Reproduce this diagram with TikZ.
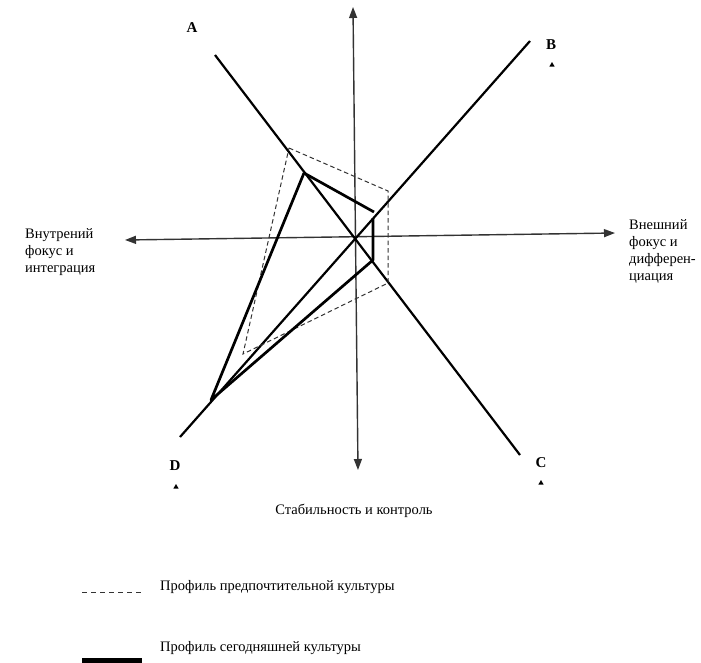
\documentclass[tikz,border=0pt]{standalone}
\usepackage{fontspec}
\setmainfont{Liberation Serif}
\usetikzlibrary{arrows.meta,shapes.geometric}
\begin{document}
\begin{tikzpicture}[x=1pt,y=-1pt,
  axisline/.style={line width=1.4pt,draw=black!80,{Triangle[length=11pt,width=8pt]}-{Triangle[length=11pt,width=8pt]}},
  diag/.style={line width=2.2pt,black},
  nowp/.style={line width=2.7pt,black,line join=round},
  pref/.style={line width=1pt,black!80,dash pattern=on 4.5pt off 3pt},
  txt/.style={font=\fontsize{14.5}{17}\selectfont,inner sep=0pt},
  lbl/.style={txt,align=left,anchor=west},
  corner/.style={font=\fontsize{15}{16}\selectfont\bfseries,inner sep=0pt},
  tri/.style={regular polygon,regular polygon sides=3,fill=black,inner sep=0pt,minimum size=6pt}]
\useasboundingbox (0,0) rectangle (701,662);
% axes
\coordinate (O) at (355,237);
\coordinate (top) at (353,7);
\coordinate (bot) at (358,470);
\coordinate (lft) at (125,240);
\coordinate (rgt) at (615,233);
\draw[axisline] (bot) -- (top);
\draw[axisline] (lft) -- (rgt);
% diagonals
\coordinate (a0) at (215,55);
\coordinate (c0) at (520,455);
\coordinate (b0) at (530,41);
\coordinate (d0) at (180,437);
\draw[diag] (a0) -- (c0);
\draw[diag] (b0) -- (d0);
% corner labels
\node[corner] (A) at (192,28) {A};
\node[corner] (B) at (551,45) {B};
\node[tri] (Bt) at (552,65) {};
\node[corner] (C) at (541,463) {C};
\node[tri] (Ct) at (541,483) {};
\node[corner] (D) at (175,466) {D};
\node[tri] (Dt) at (176,487) {};
% preferred profile (dashed)
\coordinate (pa) at (289,148);
\coordinate (pb) at (388,191);
\coordinate (pc) at (388,283);
\coordinate (pd) at (243,354);
\draw[pref] (pa) -- (pb) -- (pc) -- (pd) -- cycle;
% current profile (solid)
\coordinate (na) at (304,173);
\coordinate (nb) at (374,212);
\coordinate (nb2) at (373,218);
\coordinate (nc) at (373,260);
\coordinate (nd) at (211,400);
\draw[nowp] (na) -- (nb);
\draw[nowp] (nb2) -- (nc) -- (nd) -- (na);
% axis labels
\node[lbl] (left) at (25,252) {Внутрений\\фокус и\\интеграция};
\node[lbl] (right) at (629,251) {Внешний\\фокус и\\дифферен-\\циация};
\node[txt] (bottom) at (354,511) {Стабильность и контроль};
% legend
\coordinate (l1a) at (82,592);
\coordinate (l1b) at (142,592);
\draw[line width=1pt,black!80,dash pattern=on 5pt off 4pt] (l1a) -- (l1b);
\node[lbl] (leg1) at (160,587) {Профиль предпочтительной культуры};
\coordinate (l2a) at (82,661);
\coordinate (l2b) at (142,661);
\draw[line width=7pt,black] (l2a) -- (l2b);
\node[lbl] (leg2) at (160,648) {Профиль сегодняшней культуры};
\end{tikzpicture}
\end{document}
